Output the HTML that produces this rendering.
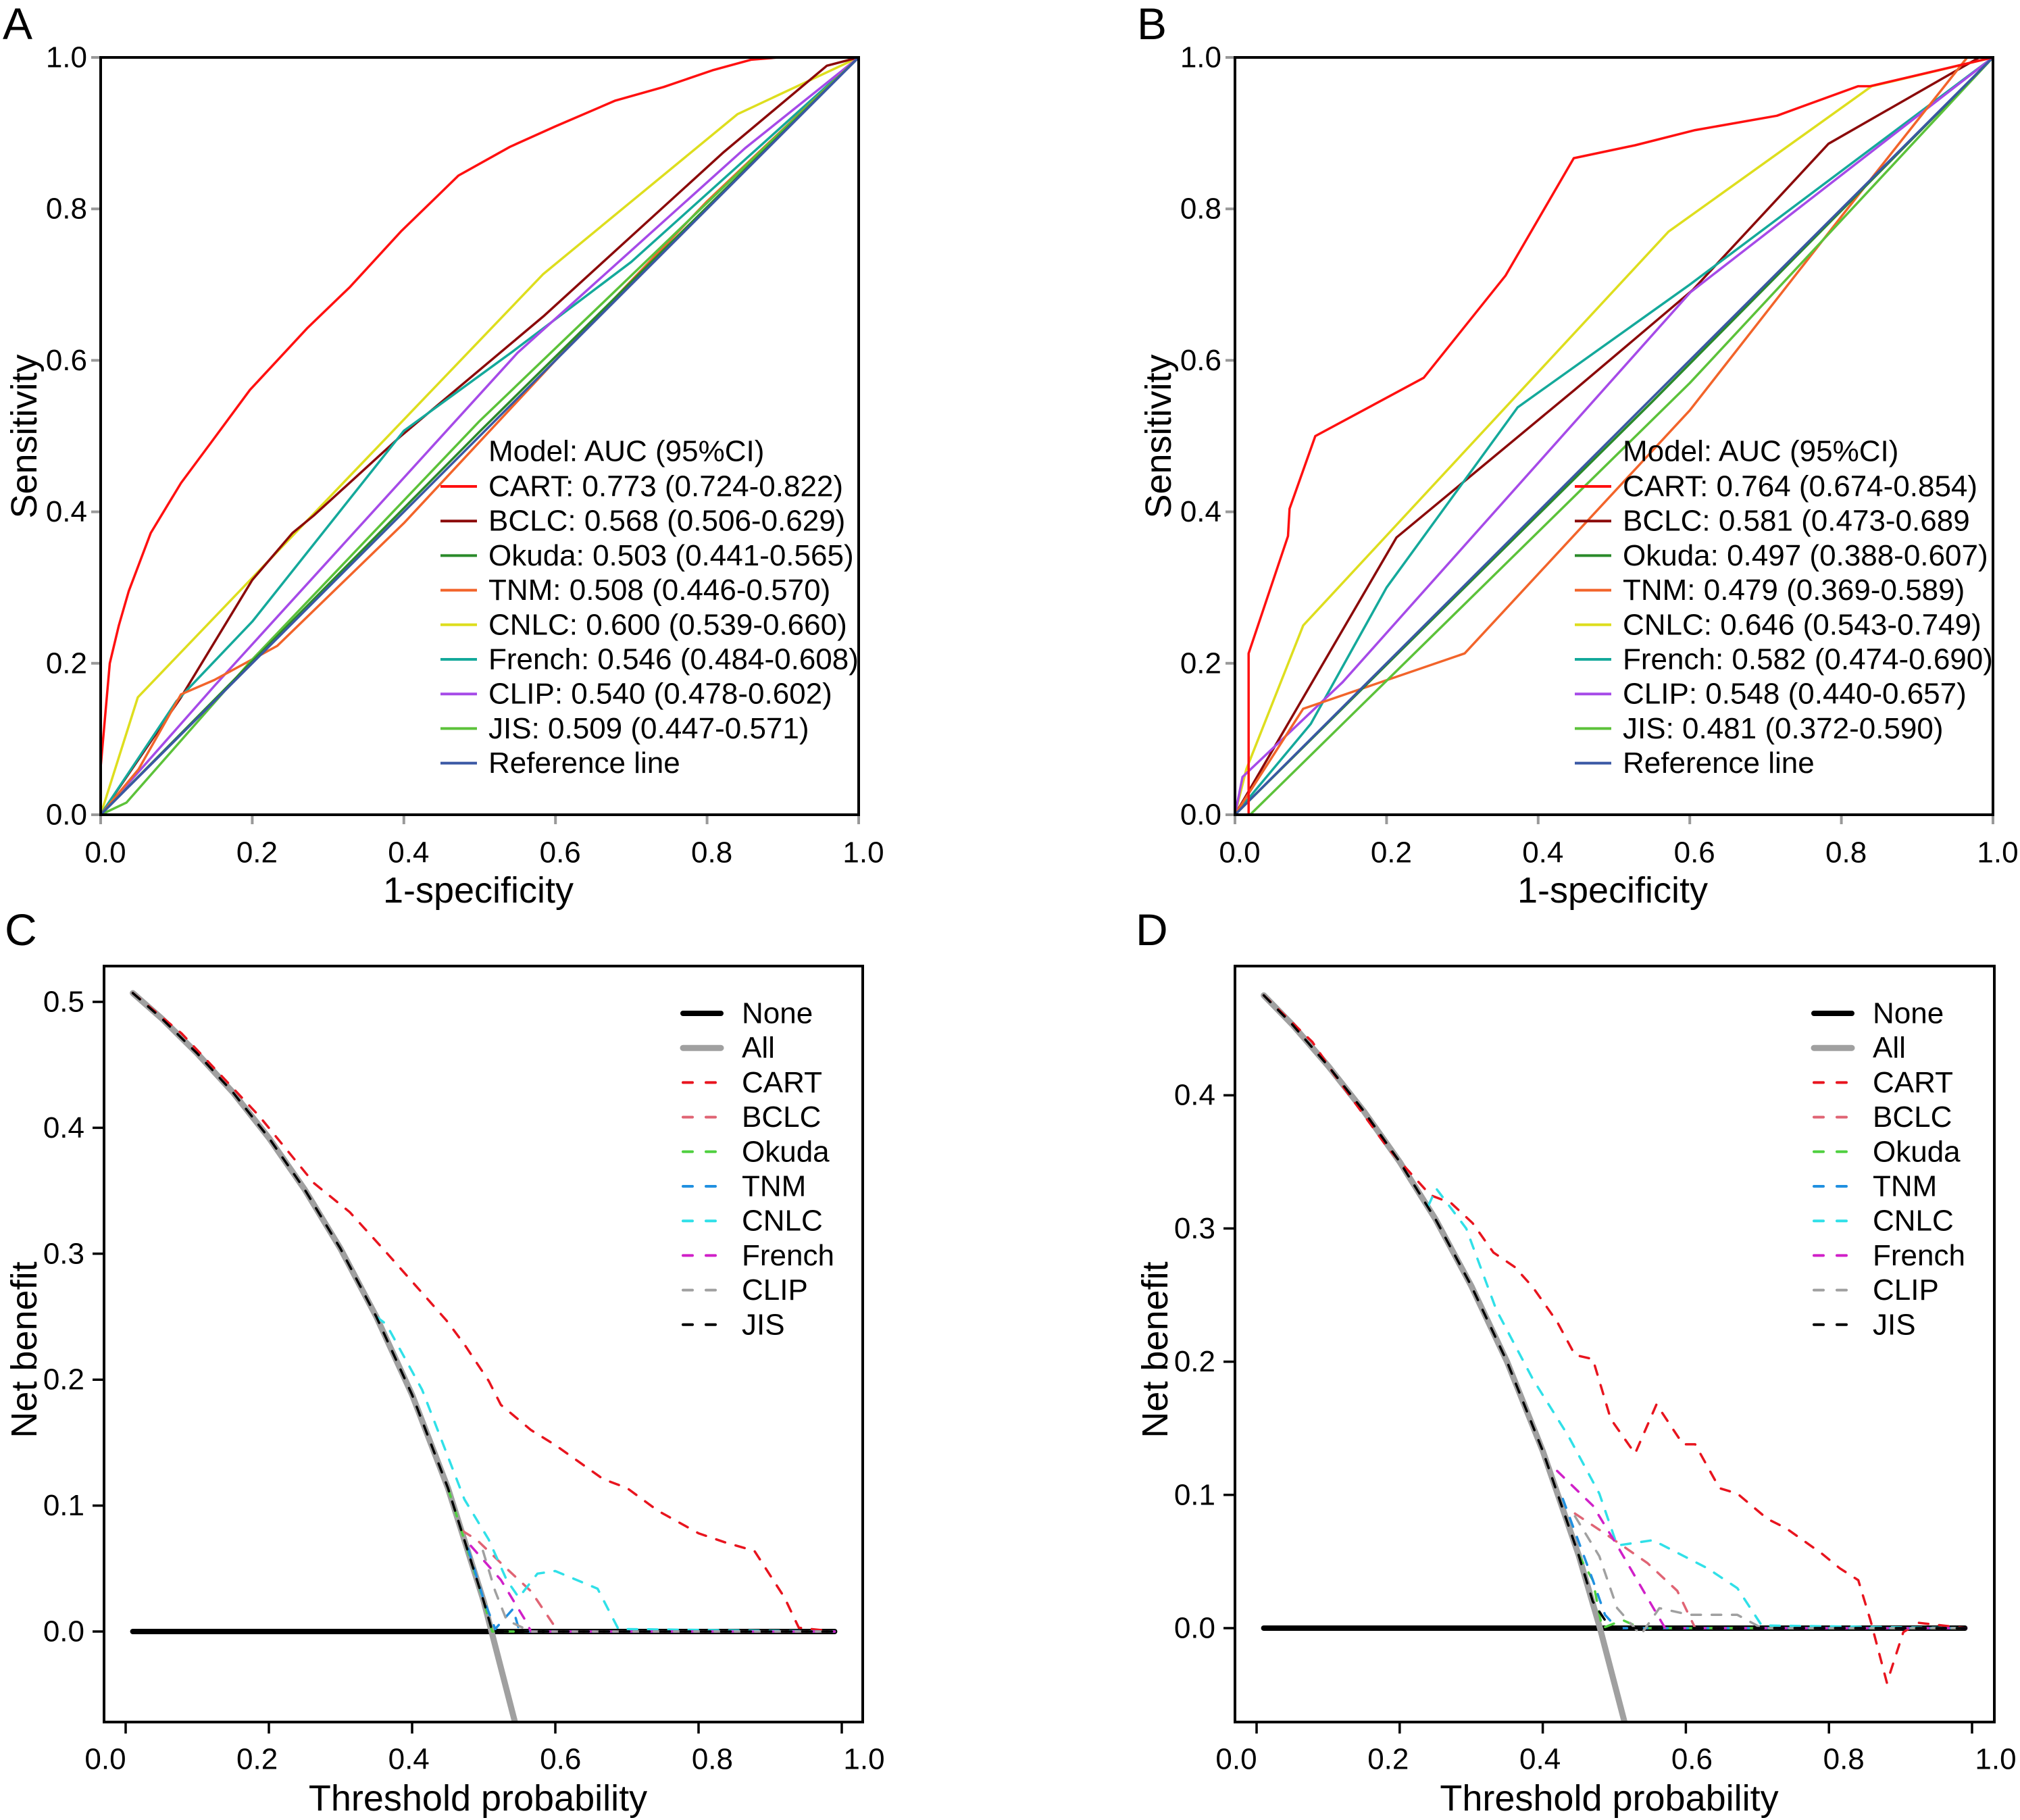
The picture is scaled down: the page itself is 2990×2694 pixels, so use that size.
<!DOCTYPE html>
<html><head><meta charset="utf-8"><style>
html,body{margin:0;padding:0;background:#fff;}
svg{display:block;font-family:"Liberation Sans",Arial,sans-serif;}
</style></head><body>
<svg id="fig" width="2990" height="2694" viewBox="0 0 2990 2694" xmlns="http://www.w3.org/2000/svg"></svg>
<script>
// ===== ROC data, panel A =====
const rocModels = ["CART","BCLC","Okuda","TNM","CNLC","French","CLIP","JIS","Reference line"];
const aucA = ["0.773 (0.724-0.822)","0.568 (0.506-0.629)","0.503 (0.441-0.565)","0.508 (0.446-0.570)","0.600 (0.539-0.660)","0.546 (0.484-0.608)","0.540 (0.478-0.602)","0.509 (0.447-0.571)"];
const aucB = ["0.764 (0.674-0.854)","0.581 (0.473-0.689","0.497 (0.388-0.607)","0.479 (0.369-0.589)","0.646 (0.543-0.749)","0.582 (0.474-0.690)","0.548 (0.440-0.657)","0.481 (0.372-0.590)"];
const rocTicks = ["0.0","0.2","0.4","0.6","0.8","1.0"];
const A_CART_x=[0,0,0.012,0.024,0.037,0.066,0.106,0.146,0.197,0.273,0.329,0.396,0.472,0.54,0.6,0.679,0.743,0.807,0.858,0.894,1];
const A_CART_y=[0,0.063,0.2,0.25,0.295,0.372,0.438,0.492,0.561,0.643,0.697,0.77,0.844,0.882,0.909,0.943,0.961,0.983,0.997,1,1];
const A_BCLC_x=[0,0.106,0.2,0.253,0.281,0.396,0.584,0.822,0.958,1];
const A_BCLC_y=[0,0.155,0.31,0.372,0.395,0.5,0.658,0.875,0.989,1];
const A_Okuda_x=[0,0.5,1];
const A_Okuda_y=[0,0.506,1];
const A_TNM_x=[0,0.05,0.106,0.15,0.233,0.4,0.6,0.8,1];
const A_TNM_y=[0,0.06,0.159,0.178,0.223,0.385,0.6,0.81,1];
const A_CNLC_x=[0,0.049,0.584,0.84,1];
const A_CNLC_y=[0,0.155,0.714,0.925,1];
const A_French_x=[0,0.1,0.2,0.4,0.544,0.7,1];
const A_French_y=[0,0.15,0.255,0.507,0.612,0.73,1];
const A_CLIP_x=[0,0.15,0.55,0.85,1];
const A_CLIP_y=[0,0.17,0.61,0.88,1];
const A_JIS_x=[0,0.034,0.2,0.5,1];
const A_JIS_y=[0,0.016,0.205,0.52,1];
const A_Ref_x=[0,1];
const A_Ref_y=[0,1];
// ===== ROC data, panel B =====
const B_CART_x=[0,0.018,0.018,0.07,0.072,0.106,0.249,0.357,0.447,0.528,0.607,0.715,0.822,0.838,1];
const B_CART_y=[0,0,0.213,0.368,0.404,0.5,0.577,0.712,0.867,0.884,0.904,0.923,0.962,0.962,1];
const B_BCLC_x=[0,0.213,0.448,0.604,0.783,0.982,1];
const B_BCLC_y=[0,0.366,0.561,0.693,0.886,1,1];
const B_Okuda_x=[0,0.55,1];
const B_Okuda_y=[0,0.545,1];
const B_TNM_x=[0,0.09,0.303,0.6,0.8,0.966,1];
const B_TNM_y=[0,0.14,0.213,0.534,0.79,1,1];
const B_CNLC_x=[0,0.015,0.09,0.572,0.84,1];
const B_CNLC_y=[0,0.06,0.25,0.77,0.962,1];
const B_French_x=[0,0.1,0.2,0.373,0.6,1];
const B_French_y=[0,0.12,0.3,0.538,0.7,1];
const B_CLIP_x=[0,0.01,0.142,0.601,1];
const B_CLIP_y=[0,0.05,0.175,0.69,1];
const B_JIS_x=[0.02,0.6,1];
const B_JIS_y=[0,0.57,1];
const B_Ref_x=[0,1];
const B_Ref_y=[0,1];
// ===== DCA data, panel C =====
const dcaLegend = ["None","All","CART","BCLC","Okuda","TNM","CNLC","French","CLIP","JIS"];
const dcaXTicks = ["0.0","0.2","0.4","0.6","0.8","1.0"];
const cYTicks = ["0.0","0.1","0.2","0.3","0.4","0.5"];
const dYTicks = ["0.0","0.1","0.2","0.3","0.4"];
const C_None_t=[0.01,0.99];
const C_None_v=[0,0];
const C_All_t=[0.01,0.05,0.1,0.15,0.2,0.25,0.3,0.35,0.4,0.45,0.5,0.545];
const C_All_v=[0.507,0.487,0.459,0.428,0.392,0.351,0.304,0.25,0.188,0.114,0.024,-0.075];
const C_CART_t=[0.01,0.078,0.187,0.263,0.313,0.364,0.406,0.448,0.473,0.507,0.524,0.566,0.6,0.667,0.7,0.743,0.8,0.836,0.878,0.92,0.94,0.99];
const C_CART_v=[0.507,0.475,0.409,0.356,0.333,0.301,0.274,0.247,0.228,0.199,0.18,0.16,0.148,0.121,0.114,0.096,0.078,0.071,0.064,0.027,0.003,0];
const C_BCLC_t=[0.47,0.49,0.532,0.566,0.604,0.99];
const C_BCLC_v=[0.08,0.073,0.05,0.032,0,0];
const C_Okuda_t=[0.45,0.5,0.512,0.99];
const C_Okuda_v=[0.114,0.024,0,0];
const C_TNM_t=[0.478,0.499,0.516,0.541,0.55,0.99];
const C_TNM_v=[0.066,0.027,0.002,0.018,0,0];
const C_CNLC_t=[0.35,0.364,0.414,0.473,0.507,0.532,0.549,0.575,0.6,0.659,0.688,0.99];
const C_CNLC_v=[0.25,0.244,0.192,0.105,0.073,0.041,0.027,0.046,0.048,0.034,0.002,0];
const C_French_t=[0.482,0.524,0.558,0.566,0.99];
const C_French_v=[0.068,0.041,0.009,0,0];
const C_CLIP_t=[0.499,0.516,0.532,0.566,0.99];
const C_CLIP_v=[0.064,0.032,0.009,0,0];
const C_JIS_t=[0.01,0.05,0.1,0.15,0.2,0.25,0.3,0.35,0.4,0.45,0.5,0.512,0.99];
const C_JIS_v=[0.507,0.487,0.459,0.428,0.392,0.351,0.304,0.25,0.188,0.114,0.024,0,0];
// ===== DCA data, panel D =====
const D_None_t=[0.01,0.99];
const D_None_v=[0,0];
const D_All_t=[0.01,0.05,0.1,0.15,0.2,0.25,0.3,0.35,0.4,0.45,0.48,0.515];
const D_All_v=[0.475,0.453,0.422,0.388,0.35,0.307,0.257,0.2,0.133,0.055,0,-0.072];
const D_CART_t=[0.01,0.078,0.108,0.184,0.243,0.272,0.302,0.331,0.361,0.386,0.42,0.445,0.47,0.495,0.529,0.559,0.596,0.613,0.647,0.672,0.714,0.74,0.79,0.815,0.841,0.858,0.881,0.904,0.925,0.992];
const D_CART_v=[0.475,0.44,0.416,0.36,0.325,0.319,0.304,0.282,0.271,0.256,0.23,0.205,0.202,0.157,0.131,0.168,0.138,0.138,0.105,0.101,0.082,0.075,0.056,0.045,0.036,0.006,-0.041,-0.003,0.004,0];
const D_BCLC_t=[0.445,0.487,0.546,0.588,0.613,0.992];
const D_BCLC_v=[0.086,0.071,0.049,0.028,0,0];
const D_Okuda_t=[0.45,0.47,0.483,0.512,0.537,0.992];
const D_Okuda_v=[0.055,0.036,0,0.006,0,0];
const D_TNM_t=[0.428,0.47,0.487,0.504,0.992];
const D_TNM_v=[0.097,0.036,0.01,0,0];
const D_CNLC_t=[0.24,0.251,0.293,0.335,0.386,0.436,0.479,0.504,0.554,0.63,0.672,0.706,0.992];
const D_CNLC_v=[0.317,0.33,0.3,0.239,0.187,0.144,0.101,0.062,0.066,0.045,0.03,0.002,0];
const D_French_t=[0.42,0.47,0.504,0.546,0.571,0.992];
const D_French_v=[0.118,0.092,0.062,0.023,0,0];
const D_CLIP_t=[0.445,0.479,0.504,0.537,0.563,0.605,0.672,0.706,0.992];
const D_CLIP_v=[0.084,0.054,0.015,-0.005,0.015,0.01,0.01,0,0];
const D_JIS_t=[0.01,0.05,0.1,0.15,0.2,0.25,0.3,0.35,0.4,0.45,0.47,0.487,0.5,0.992];
const D_JIS_v=[0.475,0.453,0.422,0.388,0.35,0.307,0.257,0.2,0.133,0.055,0.02,0.006,0,0];

const NS="http://www.w3.org/2000/svg";
const svg=document.getElementById('fig');
const FS=44, TFS=54;
function mk(tag,attrs,parent){const e=document.createElementNS(NS,tag);for(const k in attrs)e.setAttribute(k,attrs[k]);(parent||svg).appendChild(e);return e;}
function txt(s,x,y,size,anchor,parent){const t=mk('text',{x:x,y:y,'font-size':size,'text-anchor':anchor||'start','dominant-baseline':'central',fill:'#000'},parent);t.textContent=s;return t;}
function pathD(xs,ys,sx,sy){return xs.map((v,i)=>(i?'L':'M')+sx(v).toFixed(1)+','+sy(ys[i]).toFixed(1)).join('');}

const rocColors=["#ff1010","#8b0a0a","#2a8a2a","#f2642a","#dede1e","#14a99b","#a64ae8","#5cc23a","#3a58a4"];
const dcaColors=["#000000","#a0a0a0","#e8141e","#e06474","#50d040","#2090e0","#30e0e8","#d020c8","#a0a0a0","#000000"];

function roc(panel,L,R,T,B,letter,xs,ys,auc){
  const g=mk('g',{});
  
  
  const sx=v=>L+v*(R-L), sy=v=>B-v*(B-T);
  const lt=txt(letter,L-145,35,66,'start',g);
  
  
  for(let i=0;i<rocTicks.length;i++){
    const v=parseFloat(rocTicks[i]);
    const tk=mk('line',{x1:L-14,x2:L,y1:sy(v),y2:sy(v),stroke:'#999',  'stroke-width':4},g);
    
    
    const yl=txt(rocTicks[i],L-20,sy(v),FS,'end',g);
    
    
    const tx=mk('line',{x1:sx(v),x2:sx(v),y1:B,y2:B+14,stroke:'#999','stroke-width':4},g);
    
    
    const xl=txt(rocTicks[i],sx(v)+7,1262,FS,'middle',g);
    
    
  }
  const series=[[xs.CART,ys.CART],[xs.BCLC,ys.BCLC],[xs.Okuda,ys.Okuda],[xs.TNM,ys.TNM],[xs.CNLC,ys.CNLC],[xs.French,ys.French],[xs.CLIP,ys.CLIP],[xs.JIS,ys.JIS],[xs.Ref,ys.Ref]];
  const order=[4,1,5,6,3,7,2,8,0];
  for(const i of order){
    const p=mk('path',{d:pathD(series[i][0],series[i][1],sx,sy),fill:'none',stroke:rocColors[i],'stroke-width':3.5,'stroke-linejoin':'round'},g);
    
    
  }
  const box=mk('rect',{x:L,y:T,width:R-L,height:B-T,fill:'none',stroke:'#000','stroke-width':4},g);
  
  
  const lx=L+503, tx0=L+574;
  const lg=mk('g',{},g);
  
  
  const ttl=txt('Model: AUC (95%CI)',tx0,668,FS,'start',lg);
  
  
  for(let i=0;i<9;i++){
    const y=720+i*51.2;
    const ln=mk('line',{x1:lx,x2:lx+54,y1:y,y2:y,stroke:rocColors[i],'stroke-width':4},lg);
    
    
    const t=txt(i<8?rocModels[i]+': '+auc[i]:rocModels[i],tx0,y,FS,'start',lg);
    
    
  }
  const xt=txt('1-specificity',(L+R)/2-2,1318,TFS,'middle',g);
  
  
  const yt=txt('Sensitivity',0,0,TFS,'middle',g);
  yt.setAttribute('transform','translate('+(L-113)+',646) rotate(-90)');
  
  
}

function dca(panel,L,R,T,B,t0x,t1x,y0,per01,letter,yTicks,S){
  const g=mk('g',{});
  
  
  const sx=v=>t0x+v*(t1x-t0x), sy=v=>y0-v*per01*10;
  const lt=txt(letter,L-147,1376,66,'start',g);
  
  
  for(let i=0;i<yTicks.length;i++){
    const v=parseFloat(yTicks[i]);
    const tk=mk('line',{x1:L-17,x2:L,y1:sy(v),y2:sy(v),stroke:'#000','stroke-width':3.5},g);
    
    
    const yl=txt(yTicks[i],L-29,sy(v),FS,'end',g);
    
    
  }
  for(let i=0;i<dcaXTicks.length;i++){
    const v=parseFloat(dcaXTicks[i]);
    const tk=mk('line',{x1:sx(v),x2:sx(v),y1:B,y2:B+17,stroke:'#000','stroke-width':3.5},g);
    
    
    const xl=txt(dcaXTicks[i],L+2+v*(R-L),2604,FS,'middle',g);
    
    
  }
  const cp=mk('clipPath',{id:'clip'+panel},g);
  mk('rect',{x:L,y:T,width:R-L,height:B-T},cp);
  const pg=mk('g',{'clip-path':'url(#clip'+panel+')'},g);
  for(let i=0;i<10;i++){
    const s=S[i];
    const dash=i>=2;
    const p=mk('path',{d:pathD(s[0],s[1],sx,sy),fill:'none',stroke:dcaColors[i],'stroke-width':dash?3.5:(i==0?8:9),'stroke-linecap':'round','stroke-linejoin':'round'},pg);
    if(dash)p.setAttribute('stroke-dasharray','14 16');
    
    
  }
  const box=mk('rect',{x:L,y:T,width:R-L,height:B-T,fill:'none',stroke:'#000','stroke-width':4},g);
  
  
  const lg=mk('g',{},g);
  
  
  const lx=L+853, tx0=L+944;
  for(let i=0;i<10;i++){
    const y=1500+i*51.2;
    const ln=mk('line',{x1:lx+4,x2:lx+60,y1:y,y2:y,stroke:dcaColors[i],'stroke-width':i<2?(i==0?8:9):4,'stroke-linecap':'round'},lg);
    if(i>=2)ln.setAttribute('stroke-dasharray','14 20');
    
    
    const t=txt(dcaLegend[i],tx0,y,FS,'start',lg);
    
    
  }
  const xt=txt('Threshold probability',(L+R)/2-8,2662,TFS,'middle',g);
  
  
  const yt=txt('Net benefit',0,0,TFS,'middle',g);
  yt.setAttribute('transform','translate('+(L-118)+',1998) rotate(-90)');
  
  
}

roc('a',149,1271,85,1206,'A',
 {CART:A_CART_x,BCLC:A_BCLC_x,Okuda:A_Okuda_x,TNM:A_TNM_x,CNLC:A_CNLC_x,French:A_French_x,CLIP:A_CLIP_x,JIS:A_JIS_x,Ref:A_Ref_x},
 {CART:A_CART_y,BCLC:A_BCLC_y,Okuda:A_Okuda_y,TNM:A_TNM_y,CNLC:A_CNLC_y,French:A_French_y,CLIP:A_CLIP_y,JIS:A_JIS_y,Ref:A_Ref_y},aucA);
roc('b',1828,2950,85,1206,'B',
 {CART:B_CART_x,BCLC:B_BCLC_x,Okuda:B_Okuda_x,TNM:B_TNM_x,CNLC:B_CNLC_x,French:B_French_x,CLIP:B_CLIP_x,JIS:B_JIS_x,Ref:B_Ref_x},
 {CART:B_CART_y,BCLC:B_BCLC_y,Okuda:B_Okuda_y,TNM:B_TNM_y,CNLC:B_CNLC_y,French:B_French_y,CLIP:B_CLIP_y,JIS:B_JIS_y,Ref:B_Ref_y},aucB);
dca('c',154,1277,1430,2549,186,1246,2415,186.4,'C',cYTicks,
 [[C_None_t,C_None_v],[C_All_t,C_All_v],[C_CART_t,C_CART_v],[C_BCLC_t,C_BCLC_v],[C_Okuda_t,C_Okuda_v],[C_TNM_t,C_TNM_v],[C_CNLC_t,C_CNLC_v],[C_French_t,C_French_v],[C_CLIP_t,C_CLIP_v],[C_JIS_t,C_JIS_v]]);
dca('d',1828,2952,1430,2549,1860,2919,2410,197.2,'D',dYTicks,
 [[D_None_t,D_None_v],[D_All_t,D_All_v],[D_CART_t,D_CART_v],[D_BCLC_t,D_BCLC_v],[D_Okuda_t,D_Okuda_v],[D_TNM_t,D_TNM_v],[D_CNLC_t,D_CNLC_v],[D_French_t,D_French_v],[D_CLIP_t,D_CLIP_v],[D_JIS_t,D_JIS_v]]);
</script>
</body></html>
